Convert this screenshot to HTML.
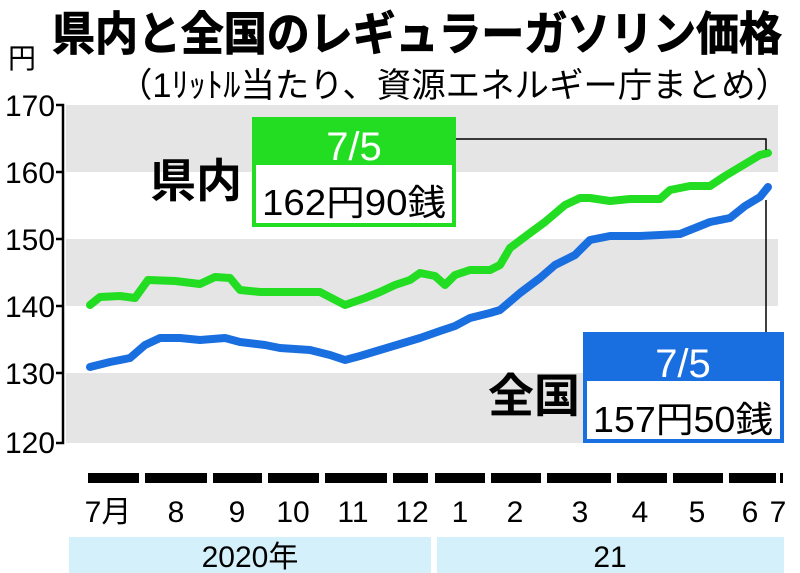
<!DOCTYPE html>
<html><head><meta charset="utf-8"><style>
body{margin:0;background:#fff;}
svg{display:block;font-family:"Liberation Sans","Noto Sans CJK JP",sans-serif;}
</style></head><body>
<svg width="800" height="573" viewBox="0 0 800 573">
<rect x="66" y="105" width="712" height="67" fill="#e5e5e5"/>
<rect x="66" y="239" width="712" height="67" fill="#e5e5e5"/>
<rect x="66" y="373" width="712" height="70" fill="#e5e5e5"/>
<path d="M56 105H63V443H56M56 172H63M56 239H63M56 306H63M56 373H63" fill="none" stroke="#000" stroke-width="2.5"/>
<g font-size="30" text-anchor="end">
<text x="55" y="116" textLength="50" lengthAdjust="spacingAndGlyphs">170</text>
<text x="55" y="183" textLength="50" lengthAdjust="spacingAndGlyphs">160</text>
<text x="55" y="250" textLength="50" lengthAdjust="spacingAndGlyphs">150</text>
<text x="55" y="317" textLength="50" lengthAdjust="spacingAndGlyphs">140</text>
<text x="55" y="384" textLength="50" lengthAdjust="spacingAndGlyphs">130</text>
<text x="55" y="453" textLength="50" lengthAdjust="spacingAndGlyphs">120</text>
</g>
<text x="8" y="68" font-size="28">円</text>
<text x="52" y="50" font-size="46" font-weight="bold" stroke="#000" stroke-width="1" textLength="730" lengthAdjust="spacingAndGlyphs">県内と全国のレギュラーガソリン価格</text>
<text x="118" y="97" font-size="34" textLength="672" lengthAdjust="spacingAndGlyphs">（1ﾘｯﾄﾙ当たり、資源エネルギー庁まとめ）</text>
<polyline fill="none" stroke="#22dd22" stroke-width="8" stroke-linejoin="round" stroke-linecap="round" points="90,305 100,297 120,296 135,298 148,280 175,281 200,284 215,277 230,278 240,290 260,292 320,292 345,305 365,298 380,292 395,285 410,280 420,273 435,276 445,285 455,275 470,270 490,270 500,265 510,248 530,233 545,222 565,205 580,198 590,198 610,201 630,199 660,199 670,190 690,186 710,186 725,176 745,164 760,155 768,153"/>
<polyline fill="none" stroke="#1a6fe0" stroke-width="8" stroke-linejoin="round" stroke-linecap="round" points="90,367 110,362 130,358 145,345 160,338 180,338 200,340 225,338 240,342 265,345 280,348 310,350 330,355 345,360 360,356 380,350 400,344 420,338 440,331 455,326 470,318 490,313 500,310 520,293 540,278 555,265 575,255 590,240 610,236 640,236 680,234 700,226 710,222 730,218 745,206 760,197 768,187"/>
<path d="M454 139H766V150M766 200V334" fill="none" stroke="#000" stroke-width="1.5"/>
<rect x="254" y="119" width="200" height="106" fill="#fff" stroke="#22dd22" stroke-width="4"/>
<rect x="254" y="119" width="200" height="46" fill="#22dd22"/>
<text x="354" y="160" font-size="40" fill="#fff" text-anchor="middle">7/5</text>
<text x="354" y="215" font-size="36" text-anchor="middle" textLength="184" lengthAdjust="spacingAndGlyphs">162円90銭</text>
<text x="150" y="197" font-size="46" font-weight="bold">県内</text>
<rect x="585" y="334" width="197" height="107" fill="#fff" stroke="#1a6fe0" stroke-width="4"/>
<rect x="585" y="334" width="197" height="47" fill="#1a6fe0"/>
<text x="683" y="377" font-size="40" fill="#fff" text-anchor="middle">7/5</text>
<text x="683" y="432" font-size="36" text-anchor="middle" textLength="180" lengthAdjust="spacingAndGlyphs">157円50銭</text>
<text x="488" y="412" font-size="46" font-weight="bold">全国</text>
<g fill="#000">
<rect x="88" y="473" width="51" height="10"/><rect x="145" y="473" width="62" height="10"/><rect x="213" y="473" width="49" height="10"/><rect x="268" y="473" width="51" height="10"/><rect x="325" y="473" width="62" height="10"/><rect x="393" y="473" width="35" height="10"/><rect x="435" y="473" width="50" height="10"/><rect x="491" y="473" width="50" height="10"/><rect x="547" y="473" width="64" height="10"/><rect x="617" y="473" width="50" height="10"/><rect x="673" y="473" width="50" height="10"/><rect x="729" y="473" width="47" height="10"/><rect x="780" y="473" width="3" height="10"/>
</g>
<g font-size="30" text-anchor="middle">
<text x="108" y="522">7月</text><text x="176" y="522">8</text><text x="237" y="522">9</text><text x="293" y="522">10</text><text x="353" y="522">11</text><text x="412" y="522">12</text><text x="460" y="522">1</text><text x="515" y="522">2</text><text x="580" y="522">3</text><text x="640" y="522">4</text><text x="697" y="522">5</text><text x="750" y="522">6</text><text x="778" y="522">7</text>
</g>
<rect x="69" y="537" width="362" height="36" fill="#d4f0fa"/>
<rect x="437" y="537" width="347" height="36" fill="#d4f0fa"/>
<text x="250" y="567" font-size="30" text-anchor="middle">2020年</text>
<text x="610" y="567" font-size="30" text-anchor="middle">21</text>
</svg>
</body></html>
